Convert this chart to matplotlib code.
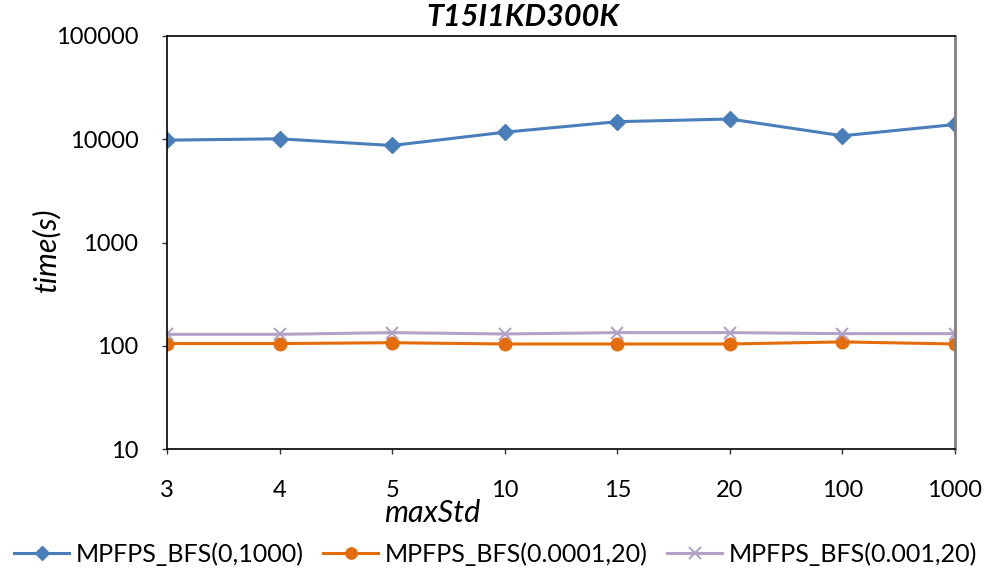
import matplotlib.pyplot as plt
import numpy as np

# maxStd values (categorical x axis)
max_std = ['3', '4', '5', '10', '15', '20', '100', '1000']

# runtime in seconds for each setting
bfs_0_1000 = [9800, 10100, 8700, 11700, 14800, 15700, 10800, 13900]
bfs_00001_20 = [105, 105, 107, 104, 104, 104, 109, 104]
bfs_0001_20 = [129, 129, 134, 130, 134, 134, 131, 131]

plt.rcParams['font.family'] = ['Lato', 'DejaVu Sans']

fig = plt.figure(figsize=(9.91, 5.73), dpi=100)
ax = fig.add_axes([167 / 991, 1 - 449 / 573, (955 - 167) / 991, (449 - 36) / 573])

x = np.arange(len(max_std))
ax.plot(x, bfs_0_1000, '-D', color='#4A7EBB', linewidth=2.2, markersize=8,
        label='MPFPS_BFS(0,1000)')
ax.plot(x, bfs_00001_20, '-o', color='#E46C0A', linewidth=2.2, markersize=9,
        label='MPFPS_BFS(0.0001,20)')
ax.plot(x, bfs_0001_20, '-x', color='#B3A2C7', linewidth=2.2, markersize=9,
        markeredgewidth=1.5, label='MPFPS_BFS(0.001,20)')

ax.set_yscale('log')
ax.set_ylim(10, 100000)
ax.set_yticks([10, 100, 1000, 10000, 100000])
ax.set_yticklabels(['10', '100', '1000', '10000', '100000'])
ax.minorticks_off()
ax.set_xlim(0, len(max_std) - 1)
ax.set_xticks(x)
ax.set_xticklabels(max_std)

ax.tick_params(axis='both', labelsize=17, length=3.6, width=1, color='#333333')
ax.tick_params(axis='x', pad=18.5)
ax.tick_params(axis='y', pad=17)
for side in ['left', 'bottom', 'top']:
    ax.spines[side].set_color('black')
    ax.spines[side].set_linewidth(1.2)
ax.spines['right'].set_color('#808080')
ax.spines['right'].set_linewidth(2)

fig.text(523 / 991, 1 - 17 / 573, 'T15I1KD300K', ha='center', va='center',
         fontsize=22, fontweight='bold', fontstyle='italic')
fig.text(432 / 991, 1 - 513 / 573, 'maxStd', ha='center', va='center',
         fontsize=22, fontstyle='italic')
fig.text(46 / 991, 1 - 250 / 573, 'time(s)', ha='center', va='center',
         rotation=90, fontsize=22, fontstyle='italic')

fig.legend(loc='center', bbox_to_anchor=(0.5, 1 - 554 / 573), ncol=3,
           frameon=False, fontsize=18, handlelength=2.2, columnspacing=0.8,
           handletextpad=0.25, markerscale=0.9, borderpad=0.2)

fig.savefig('out.png', dpi=100)
